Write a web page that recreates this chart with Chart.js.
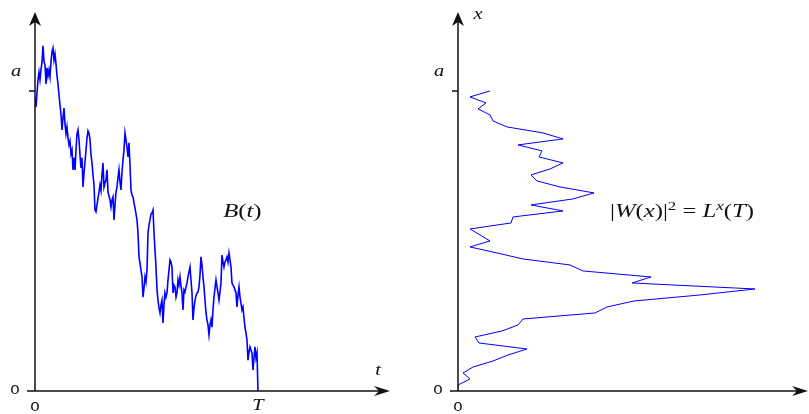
<!DOCTYPE html>
<html>
<head>
<meta charset="utf-8">
<script src="https://cdn.jsdelivr.net/npm/chart.js@4.4.1/dist/chart.umd.min.js"></script>
<style>
  html, body { margin: 0; padding: 0; background: #fff; }
  #wrap { position: relative; width: 809px; height: 414px; }
  #left { position: absolute; left: 0; top: 0; }
  #right { position: absolute; left: 405px; top: 0; }
</style>
</head>
<body>
<div id="wrap">
  <canvas id="left" width="405" height="414"></canvas>
  <canvas id="right" width="404" height="414"></canvas>
</div>
<script>
// levels: path starts at a and is stopped when it first hits 0, at time T
var T = 100;
var a = 100;

// B(t) on an even time grid from 0 to T
var bPath = [
  97.7, 94.7, 99.3, 103.7, 106.3, 103.7, 107, 109.7, 115, 109.7,
  108.7, 102.3, 107.7, 105, 107, 104.7, 109.7, 113, 114.3, 110.3,
  112.3, 109, 105, 102.3, 98.7, 95.3, 92.3, 87, 91, 94.3,
  89, 85.7, 88, 84.3, 82, 83.3, 79, 80.3, 73.7, 77.7,
  73.7, 80.3, 85.7, 87, 83.7, 78.7, 74.3, 77.7, 68, 72.7,
  76.3, 80.3, 84.3, 86.7, 86, 83.7, 78.7, 76, 72, 68.7,
  60.3, 59.7, 62, 64.3, 66.3, 68.7, 66.8, 72, 76, 68,
  69.3, 70.3, 73.7, 66.3, 65, 63.7, 61.3, 63.7, 64.7, 57,
  62, 66.3, 68, 71, 73.7, 69.7, 67, 73, 77, 80.3,
  86, 83.7, 81.3, 78, 82.7, 75.3, 67, 65.3, 64.7, 62.7,
  61, 59, 57, 52.7, 44.7, 42.7, 40.3, 38, 31.3, 34.3,
  38, 36.3, 40.3, 52.7, 55.3, 57, 59, 59.3, 60.3, 52.7,
  47, 41.3, 33.7, 30.3, 27.7, 26, 28.7, 30.3, 22.7, 28.7,
  32.7, 31.3, 32.7, 37, 40.3, 43.7, 43, 41.3, 32.7, 35.3,
  34.7, 31.3, 32.7, 37, 35.3, 38, 35, 32.7, 27, 33.7,
  33, 34.7, 36, 38, 39.7, 41.3, 37, 32.7, 23.7, 27.7,
  30.3, 31.7, 32.7, 33, 34.7, 38.7, 44.7, 42, 38, 34.7,
  30.3, 26, 23.7, 22, 18.7, 22, 23.7, 21.3, 27, 31.3,
  34.3, 37, 34.7, 32.7, 30.3, 33, 36, 45.3, 43, 41.3,
  43, 43.7, 44.7, 43, 46, 43.7, 41.3, 36, 35.3, 34.7,
  33.7, 32.7, 28, 32, 34.7, 31.3, 29.3, 27, 28, 24.3,
  21.3, 19.3, 17, 10.3, 13, 14.7, 13.7, 12.7, 7, 11,
  14.7, 11, 12.7, 0
];

// L^x(T) for x from 0 up to a in equal steps
var localTime = [
  0, 0, 0.12, 0.05, 0.15, 0.35, 0.50, 0.69, 0.21, 0.17,
  0.44, 0.60, 0.65, 1.37, 1.49, 1.76, 2.42, 2.97, 1.74, 1.93,
  1.25, 1.12, 0.65, 0.39, 0.12, 0.32, 0.22, 0.12, 0.53, 0.55,
  1.05, 0.73, 1.15, 1.36, 1.02, 0.79, 0.73, 0.92, 1.05, 0.81,
  0.84, 0.60, 1.05, 0.85, 0.49, 0.35, 0.32, 0.20, 0.28, 0.12,
  0.32
];

var tTicks = [0, T];
var tTickLabels = ['0', 'T'];
var levelTicks = [0, a];
var levelTickLabels = ['0', 'a'];

var SX = 1.2; // the picture is a bit wide, so text is stretched
var SX_EQ = 1.3;
var mathFont = '"Liberation Serif", "DejaVu Serif", serif';
var numFont = '13px "DejaVu Sans", sans-serif';

function txt(ctx, s, x, y, font, align) {
  ctx.save();
  ctx.font = font;
  ctx.fillStyle = '#111';
  ctx.textAlign = align || 'center';
  ctx.textBaseline = 'middle';
  ctx.translate(x, y);
  ctx.scale(SX, 1);
  ctx.fillText(s, 0, 0);
  ctx.restore();
}

// pieces: [text, font, baseline shift]
function richText(ctx, pieces, cx, y) {
  ctx.save();
  ctx.fillStyle = '#111';
  ctx.textBaseline = 'alphabetic';
  var total = 0;
  pieces.forEach(function (p) {
    ctx.font = p[1];
    total += ctx.measureText(p[0]).width * SX_EQ;
  });
  var x = cx - total / 2;
  pieces.forEach(function (p) {
    ctx.font = p[1];
    var w = ctx.measureText(p[0]).width * SX_EQ;
    ctx.save();
    ctx.translate(x, y + p[2]);
    ctx.scale(SX_EQ, 1);
    ctx.textAlign = 'left';
    ctx.fillText(p[0], 0, 0);
    ctx.restore();
    x += w;
  });
  ctx.restore();
}

function arrowUp(ctx, x, y) {
  ctx.beginPath();
  ctx.moveTo(x, y);
  ctx.lineTo(x - 6, y + 14);
  ctx.lineTo(x, y + 10);
  ctx.lineTo(x + 6, y + 14);
  ctx.closePath();
  ctx.fill();
}

function arrowRight(ctx, x, y) {
  ctx.beginPath();
  ctx.moveTo(x, y);
  ctx.lineTo(x - 16, y - 5);
  ctx.lineTo(x - 11, y);
  ctx.lineTo(x - 16, y + 5);
  ctx.closePath();
  ctx.fill();
}

// hand-drawn axes with arrows, ticks and the math labels
var axesPlugin = {
  id: 'mathAxes',
  afterDatasetsDraw: function (chart, args, opts) {
    var ctx = chart.ctx;
    var xs = chart.scales.x, ys = chart.scales.y;
    var area = chart.chartArea;
    var x0 = xs.getPixelForValue(0);
    var y0 = ys.getPixelForValue(levelTicks[0]);
    var ya = ys.getPixelForValue(levelTicks[1]);
    ctx.save();
    ctx.strokeStyle = '#111';
    ctx.fillStyle = '#111';
    ctx.lineWidth = 1.5;
    ctx.beginPath();
    ctx.moveTo(x0 - 8, y0);
    ctx.lineTo(area.right - 6, y0);
    ctx.moveTo(x0, y0);
    ctx.lineTo(x0, area.top + 6);
    ctx.moveTo(x0 - 6, ya);
    ctx.lineTo(x0, ya);
    ctx.stroke();
    arrowUp(ctx, x0, area.top);
    arrowRight(ctx, area.right, y0);
    ctx.restore();

    var it17 = 'italic 17px ' + mathFont;
    txt(ctx, levelTickLabels[0], x0 - 20, y0, numFont);
    txt(ctx, levelTickLabels[1], x0 - 19, ya - 19, it17);

    var it = 'italic 19px ' + mathFont, up = '19px ' + mathFont;
    if (opts.panel === 'left') {
      txt(ctx, tTickLabels[0], xs.getPixelForValue(tTicks[0]), y0 + 17, numFont);
      txt(ctx, tTickLabels[1], xs.getPixelForValue(tTicks[1]), y0 + 15, it17);
      txt(ctx, 't', area.right - 12, y0 - 20, it17);
      richText(ctx, [['B', it, 0], ['(', up, 0], ['t', it, 0], [')', up, 0]],
        xs.getPixelForValue(opts.labelAt[0]), ys.getPixelForValue(opts.labelAt[1]) + 6);
    } else {
      txt(ctx, '0', x0, y0 + 17, numFont);
      txt(ctx, 'x', x0 + 20, area.top + 3, it17);
      var sup = '13px ' + mathFont, itsup = 'italic 13px ' + mathFont;
      richText(ctx, [
        ['|', up, 0], ['W', it, 0], ['(', up, 0], ['x', it, 0], [')|', up, 0],
        ['2', sup, -7], [' = ', up, 0], ['L', it, 0], ['x', itsup, -7],
        ['(', up, 0], ['T', it, 0], [')', up, 0]
      ], xs.getPixelForValue(opts.labelAt[0]), ys.getPixelForValue(opts.labelAt[1]) + 6);
    }
  }
};

var pathPoints = bPath.map(function (b, i) {
  return { x: i * T / (bPath.length - 1), y: b };
});
var profilePoints = localTime.map(function (l, i) {
  return { x: l, y: i * a / (localTime.length - 1) };
});

function baseOptions(xMax, pad, panel, labelAt) {
  return {
    responsive: false,
    animation: false,
    layout: { padding: pad },
    plugins: {
      legend: { display: false },
      tooltip: { enabled: false },
      mathAxes: { panel: panel, labelAt: labelAt }
    },
    scales: {
      x: { type: 'linear', min: 0, max: xMax, display: false },
      y: { type: 'linear', min: 0, max: a * 1.263, display: false }
    }
  };
}

new Chart(document.getElementById('left'), {
  type: 'line',
  data: {
    datasets: [{
      data: pathPoints,
      borderColor: '#0000ff',
      borderWidth: 1.6,
      pointRadius: 0,
      tension: 0
    }]
  },
  options: baseOptions(T * 1.592, { left: 35, right: 15, top: 12, bottom: 23 }, 'left', [93, 60]),
  plugins: [axesPlugin]
});

new Chart(document.getElementById('right'), {
  type: 'line',
  data: {
    datasets: [{
      data: profilePoints,
      borderColor: '#0000ff',
      borderWidth: 1,
      pointRadius: 0,
      tension: 0
    }]
  },
  options: baseOptions(3.5, { left: 53, right: 1, top: 12, bottom: 23 }, 'right', [2.24, 60]),
  plugins: [axesPlugin]
});
</script>
</body>
</html>
